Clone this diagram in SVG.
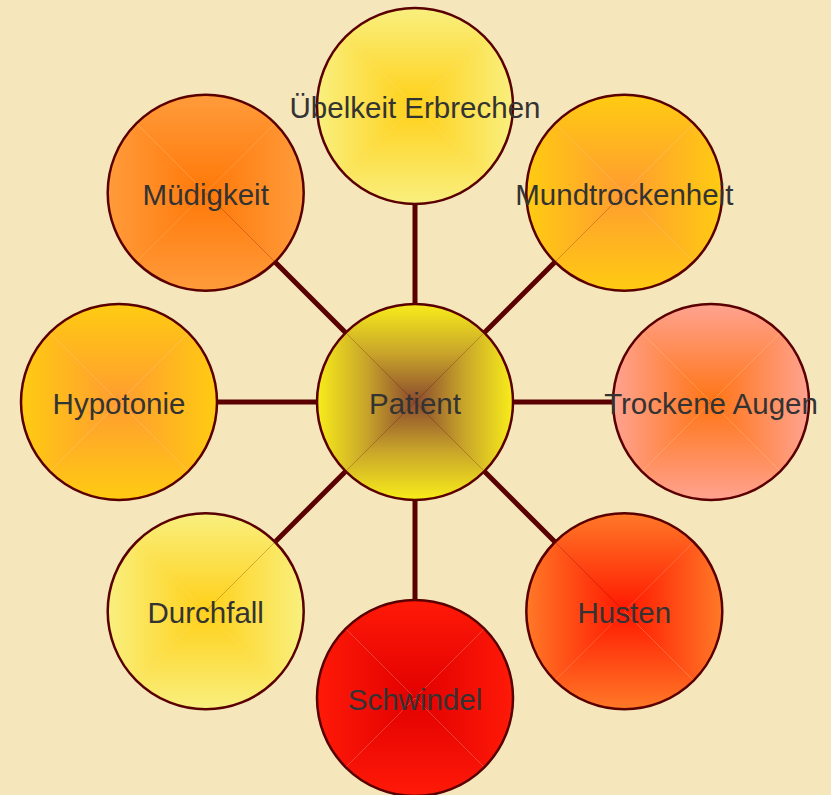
<svg xmlns="http://www.w3.org/2000/svg" xmlns:xlink="http://www.w3.org/1999/xlink" width="831" height="795" viewBox="0 0 831 795">
<style>
.edge{stroke:#5a0000;stroke-width:5;fill:none}
.ring{fill:none;stroke:#5a0000;stroke-width:2.5}
.lbl{font-family:"Liberation Sans",Arial,sans-serif;font-size:29.5px;fill:#333333;text-anchor:middle}
</style>
<defs>
<clipPath id="cc"><circle cx="0" cy="0" r="98"/></clipPath>
<path id="tri" d="M-99,-99 L99,-99 L0,0 Z"/>
<linearGradient id="gPat" x1="0" y1="0" x2="0" y2="1"><stop offset="0" stop-color="#f9ee1a"/><stop offset="0.5" stop-color="#c9a62a"/><stop offset="1" stop-color="#8a4a2e"/></linearGradient>
<linearGradient id="gSch" x1="0" y1="0" x2="0" y2="1"><stop offset="0" stop-color="#ff1a08"/><stop offset="1" stop-color="#e20000"/></linearGradient>
<linearGradient id="gHus" x1="0" y1="0" x2="0" y2="1"><stop offset="0" stop-color="#ff7a28"/><stop offset="1" stop-color="#ff1800"/></linearGradient>
<linearGradient id="gTro" x1="0" y1="0" x2="0" y2="1"><stop offset="0" stop-color="#ffa392"/><stop offset="1" stop-color="#ff7414"/></linearGradient>
<linearGradient id="gHyp" x1="0" y1="0" x2="0" y2="1"><stop offset="0" stop-color="#ffcc12"/><stop offset="1" stop-color="#ff9c30"/></linearGradient>
<linearGradient id="gMue" x1="0" y1="0" x2="0" y2="1"><stop offset="0" stop-color="#ff9c3c"/><stop offset="1" stop-color="#ff7808"/></linearGradient>
<linearGradient id="gUeb" x1="0" y1="0" x2="0" y2="1"><stop offset="0" stop-color="#f9f080"/><stop offset="1" stop-color="#ffd018"/></linearGradient>
</defs>
<rect width="831" height="795" fill="#f5e6bc"/>
<g id="connectors">
<line class="edge" x1="415" y1="402" x2="415" y2="106"/>
<line class="edge" x1="415" y1="402" x2="624.3" y2="192.7"/>
<line class="edge" x1="415" y1="402" x2="711" y2="402"/>
<line class="edge" x1="415" y1="402" x2="624.3" y2="611.3"/>
<line class="edge" x1="415" y1="402" x2="415" y2="698"/>
<line class="edge" x1="415" y1="402" x2="205.7" y2="611.3"/>
<line class="edge" x1="415" y1="402" x2="119" y2="402"/>
<line class="edge" x1="415" y1="402" x2="205.7" y2="192.7"/>
</g>
<g id="patient" transform="translate(415,402)">
<g clip-path="url(#cc)" fill="url(#gPat)"><use xlink:href="#tri"/><use xlink:href="#tri" transform="rotate(90)"/><use xlink:href="#tri" transform="rotate(180)"/><use xlink:href="#tri" transform="rotate(270)"/></g>
<circle class="ring" r="98"/>
<text class="lbl" x="0" y="12">Patient</text>
</g>
<g id="uebelkeit" transform="translate(415,106)">
<g clip-path="url(#cc)" fill="url(#gUeb)"><use xlink:href="#tri"/><use xlink:href="#tri" transform="rotate(90)"/><use xlink:href="#tri" transform="rotate(180)"/><use xlink:href="#tri" transform="rotate(270)"/></g>
<circle class="ring" r="98"/>
<text class="lbl" x="0" y="12">Übelkeit Erbrechen</text>
</g>
<g id="mundtrockenheit" transform="translate(624.3,192.7)">
<g clip-path="url(#cc)" fill="url(#gHyp)"><use xlink:href="#tri"/><use xlink:href="#tri" transform="rotate(90)"/><use xlink:href="#tri" transform="rotate(180)"/><use xlink:href="#tri" transform="rotate(270)"/></g>
<circle class="ring" r="98"/>
<text class="lbl" x="0" y="12">Mundtrockenheit</text>
</g>
<g id="trockene-augen" transform="translate(711,402)">
<g clip-path="url(#cc)" fill="url(#gTro)"><use xlink:href="#tri"/><use xlink:href="#tri" transform="rotate(90)"/><use xlink:href="#tri" transform="rotate(180)"/><use xlink:href="#tri" transform="rotate(270)"/></g>
<circle class="ring" r="98"/>
<text class="lbl" x="0" y="12">Trockene Augen</text>
</g>
<g id="husten" transform="translate(624.3,611.3)">
<g clip-path="url(#cc)" fill="url(#gHus)"><use xlink:href="#tri"/><use xlink:href="#tri" transform="rotate(90)"/><use xlink:href="#tri" transform="rotate(180)"/><use xlink:href="#tri" transform="rotate(270)"/></g>
<circle class="ring" r="98"/>
<text class="lbl" x="0" y="12">Husten</text>
</g>
<g id="schwindel" transform="translate(415,698)">
<g clip-path="url(#cc)" fill="url(#gSch)"><use xlink:href="#tri"/><use xlink:href="#tri" transform="rotate(90)"/><use xlink:href="#tri" transform="rotate(180)"/><use xlink:href="#tri" transform="rotate(270)"/></g>
<circle class="ring" r="98"/>
<text class="lbl" x="0" y="12">Schwindel</text>
</g>
<g id="durchfall" transform="translate(205.7,611.3)">
<g clip-path="url(#cc)" fill="url(#gUeb)"><use xlink:href="#tri"/><use xlink:href="#tri" transform="rotate(90)"/><use xlink:href="#tri" transform="rotate(180)"/><use xlink:href="#tri" transform="rotate(270)"/></g>
<circle class="ring" r="98"/>
<text class="lbl" x="0" y="12">Durchfall</text>
</g>
<g id="hypotonie" transform="translate(119,402)">
<g clip-path="url(#cc)" fill="url(#gHyp)"><use xlink:href="#tri"/><use xlink:href="#tri" transform="rotate(90)"/><use xlink:href="#tri" transform="rotate(180)"/><use xlink:href="#tri" transform="rotate(270)"/></g>
<circle class="ring" r="98"/>
<text class="lbl" x="0" y="12">Hypotonie</text>
</g>
<g id="muedigkeit" transform="translate(205.7,192.7)">
<g clip-path="url(#cc)" fill="url(#gMue)"><use xlink:href="#tri"/><use xlink:href="#tri" transform="rotate(90)"/><use xlink:href="#tri" transform="rotate(180)"/><use xlink:href="#tri" transform="rotate(270)"/></g>
<circle class="ring" r="98"/>
<text class="lbl" x="0" y="12">Müdigkeit</text>
</g>
</svg>
